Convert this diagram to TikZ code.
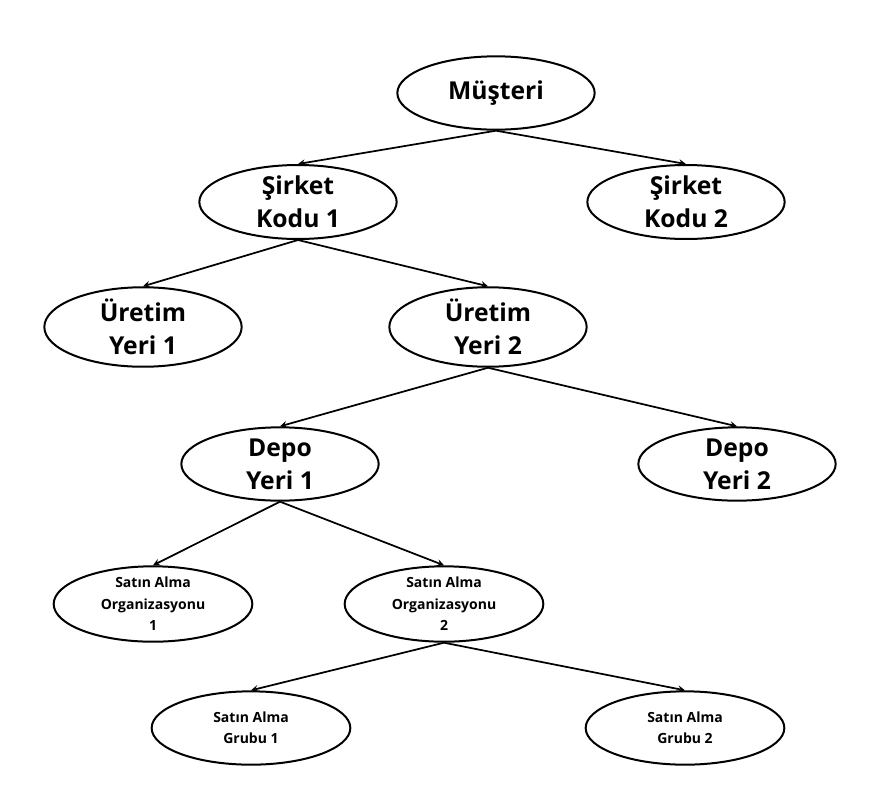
\documentclass[tikz,border=0pt]{standalone}
\usepackage{fontspec}
\setmainfont{Open Sans}
\usetikzlibrary{arrows,shapes.geometric}

\begin{document}
\begin{tikzpicture}[>=stealth, x=0.75pt, y=-0.75pt]
			\tikzstyle{big} = [draw, line width=1.5pt, ellipse, minimum width=148pt, minimum height=55pt, inner sep=0pt, align=center, font=\fontsize{18.5}{25}\selectfont\bfseries]
			\tikzstyle{small} = [draw, line width=1.5pt, ellipse, minimum width=149pt, minimum height=55pt, inner sep=0pt, align=center, font=\fontsize{10.5}{16}\selectfont\bfseries]
			\useasboundingbox (0,0) rectangle (889,793);
			\path[->, line width=1.3pt]
			node[big] at (496,93) (mus) {Müşteri}
			node[big] at (298,202) (sk1) {Şirket\\Kodu 1}
			node[big] at (686,202) (sk2) {Şirket\\Kodu 2}
			node[big] at (143,327) (uy1) {Üretim\\Yeri 1}
			node[big] at (488,327) (uy2) {Üretim\\Yeri 2}
			node[big] at (280,464) (dy1) {Depo\\Yeri 1}
			node[big] at (737,464) (dy2) {Depo\\Yeri 2}
			node[small] at (153,604) (sao1) {Satın Alma\\Organizasyonu\\1}
			node[small] at (444,604) (sao2) {Satın Alma\\Organizasyonu\\2}
			node[small] at (251,728) (sag1) {Satın Alma\\Grubu 1}
			node[small] at (685,728) (sag2) {Satın Alma\\Grubu 2}
			(mus.south) edge (sk1.north)
			(mus.south) edge (sk2.north)
			(sk1.south) edge (uy1.north)
			(sk1.south) edge (uy2.north)
			(uy2.south) edge (dy1.north)
			(uy2.south) edge (dy2.north)
			(dy1.south) edge (sao1.north)
			(dy1.south) edge (sao2.north)
			(sao2.south) edge (sag1.north)
			(sao2.south) edge (sag2.north)
			;
\end{tikzpicture}
\end{document}
